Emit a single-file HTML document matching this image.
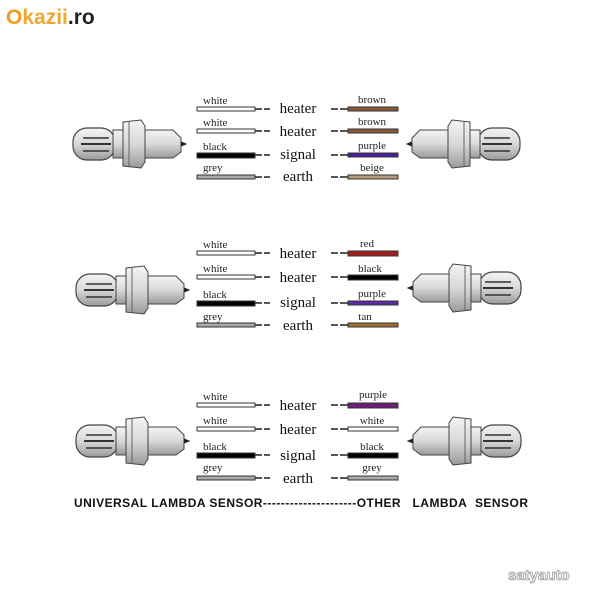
<!DOCTYPE html>
<html><head><meta charset="utf-8"><style>
body{margin:0;background:#fff;width:600px;height:600px;overflow:hidden}
svg{display:block}
.l{font:11px "Liberation Serif",serif;fill:#222}
.m{font:15px "Liberation Serif",serif;fill:#111;text-anchor:middle}
.r{font:11px "Liberation Serif",serif;fill:#222;text-anchor:middle}
</style></head><body>
<svg width="600" height="600" viewBox="0 0 600 600">
<defs>
<linearGradient id="g" x1="0" y1="0" x2="0" y2="1"><stop offset="0" stop-color="#f4f4f4"/><stop offset="0.5" stop-color="#d8d8d8"/><stop offset="1" stop-color="#9a9a9a"/></linearGradient>
<g id="s">
<rect x="0" y="8" width="42" height="32" rx="14" fill="url(#g)" stroke="#444" stroke-width="1.2"/>
<line x1="10" y1="18" x2="36" y2="18" stroke="#333" stroke-width="1.5"/>
<line x1="8" y1="24" x2="38" y2="24" stroke="#333" stroke-width="2"/>
<line x1="10" y1="31" x2="36" y2="31" stroke="#333" stroke-width="1.5"/>
<rect x="40" y="10" width="12" height="28" fill="url(#g)" stroke="#444"/>
<path d="M50 2 L68 0 L72 6 L72 42 L68 48 L50 46 Z" fill="url(#g)" stroke="#444"/>
<line x1="56" y1="2" x2="56" y2="46" stroke="#666"/>
<path d="M72 10 L100 10 L108 18 L108 32 L100 38 L72 38 Z" fill="url(#g)" stroke="#444"/>
<path d="M108 22 L113 24 L108 26" fill="#222" stroke="#222"/>
</g>
</defs>
<text x="6" y="24" style="font:bold 21px 'Liberation Sans',sans-serif" fill="#222"><tspan fill="#f39a1e">O</tspan><tspan fill="#f0a830">kazii</tspan>.ro</text>

<use href="#s" x="73" y="120"/>
<use href="#s" transform="translate(520,120) scale(-1,1)"/>
<use href="#s" x="76" y="266"/>
<use href="#s" transform="translate(521,264) scale(-1,1)"/>
<use href="#s" x="76" y="417"/>
<use href="#s" transform="translate(521,417) scale(-1,1)"/>

<g stroke="#222" stroke-width="1.5">
<!-- dashes left & right for all rows -->
<path d="M255 109H262M264 109H270M255 131H262M264 131H270M255 155H262M264 155H270M255 177H262M264 177H270
M255 253H262M264 253H270M255 277H262M264 277H270M255 303H262M264 303H270M255 325H262M264 325H270
M255 405H262M264 405H270M255 429H262M264 429H270M255 455H262M264 455H270M255 478H262M264 478H270
M331 109H338M340 109H348M331 131H338M340 131H348M331 155H338M340 155H348M331 177H338M340 177H348
M331 253H338M340 253H348M331 277H338M340 277H348M331 303H338M340 303H348M331 325H338M340 325H348
M331 405H338M340 405H348M331 429H338M340 429H348M331 455H338M340 455H348M331 478H338M340 478H348"/>
</g>
<g stroke="#333" stroke-width="1">
<rect x="197" y="107" width="58" height="4" fill="#fff"/>
<rect x="197" y="129" width="58" height="4" fill="#fff"/>
<rect x="197" y="153" width="58" height="5" fill="#000"/>
<rect x="197" y="175" width="58" height="4" fill="#aaa"/>
<rect x="197" y="251" width="58" height="4" fill="#fff"/>
<rect x="197" y="275" width="58" height="4" fill="#fff"/>
<rect x="197" y="301" width="58" height="5" fill="#000"/>
<rect x="197" y="323" width="58" height="4" fill="#aaa"/>
<rect x="197" y="403" width="58" height="4" fill="#fff"/>
<rect x="197" y="427" width="58" height="4" fill="#fff"/>
<rect x="197" y="453" width="58" height="5" fill="#000"/>
<rect x="197" y="476" width="58" height="4" fill="#aaa"/>

<rect x="348" y="107" width="50" height="4" fill="#8a5a3a"/>
<rect x="348" y="129" width="50" height="4" fill="#8a5a3a"/>
<rect x="348" y="153" width="50" height="4" fill="#4a1f9a"/>
<rect x="348" y="175" width="50" height="4" fill="#b89a78"/>
<rect x="348" y="251" width="50" height="5" fill="#a02020"/>
<rect x="348" y="275" width="50" height="5" fill="#000"/>
<rect x="348" y="301" width="50" height="4" fill="#5a2aa0"/>
<rect x="348" y="323" width="50" height="4" fill="#a07030"/>
<rect x="348" y="403" width="50" height="5" fill="#6a1f7a"/>
<rect x="348" y="427" width="50" height="4" fill="#fff"/>
<rect x="348" y="453" width="50" height="5" fill="#000"/>
<rect x="348" y="476" width="50" height="4" fill="#aaa"/>
</g>

<text class="l" x="203" y="104">white</text><text class="l" x="203" y="126">white</text><text class="l" x="203" y="150">black</text><text class="l" x="203" y="171">grey</text>
<text class="l" x="203" y="248">white</text><text class="l" x="203" y="272">white</text><text class="l" x="203" y="298">black</text><text class="l" x="203" y="320">grey</text>
<text class="l" x="203" y="400">white</text><text class="l" x="203" y="424">white</text><text class="l" x="203" y="450">black</text><text class="l" x="203" y="471">grey</text>

<text class="r" x="372" y="103">brown</text><text class="r" x="372" y="125">brown</text><text class="r" x="372" y="149">purple</text><text class="r" x="372" y="171">beige</text>
<text class="r" x="367" y="247">red</text><text class="r" x="370" y="272">black</text><text class="r" x="372" y="297">purple</text><text class="r" x="365" y="320">tan</text>
<text class="r" x="373" y="398">purple</text><text class="r" x="372" y="424">white</text><text class="r" x="372" y="450">black</text><text class="r" x="372" y="471">grey</text>

<text class="m" x="298" y="113">heater</text><text class="m" x="298" y="136">heater</text><text class="m" x="298" y="159">signal</text><text class="m" x="298" y="181">earth</text>
<text class="m" x="298" y="258">heater</text><text class="m" x="298" y="282">heater</text><text class="m" x="298" y="307">signal</text><text class="m" x="298" y="330">earth</text>
<text class="m" x="298" y="410">heater</text><text class="m" x="298" y="434">heater</text><text class="m" x="298" y="460">signal</text><text class="m" x="298" y="483">earth</text>

<text x="74" y="507" style="font:bold 12px 'Liberation Sans',sans-serif" fill="#111" textLength="454">UNIVERSAL LAMBDA SENSOR---------------------OTHER&#160;&#160; LAMBDA&#160; SENSOR</text>
<text x="508" y="580" style="font:bold 15px 'Liberation Sans',sans-serif" fill="#fff" stroke="#999" stroke-width="0.8">satyauto</text>
</svg>
</body></html>
